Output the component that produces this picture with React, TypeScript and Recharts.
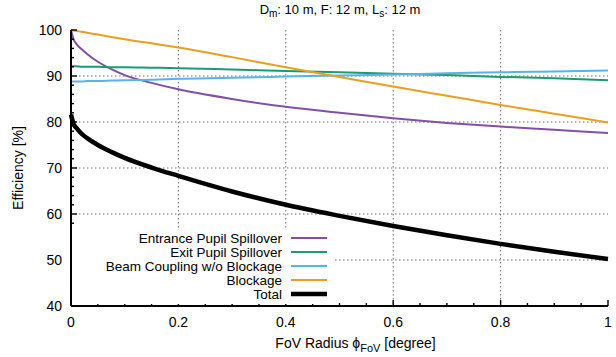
import { CartesianGrid, Label, Legend, Line, LineChart, XAxis, YAxis } from "recharts";

// FoV radius [degree] and efficiencies [%]
const fov = [0, 0.005, 0.01, 0.02, 0.03, 0.05, 0.075, 0.1, 0.15, 0.2, 0.3, 0.4, 0.5, 0.6, 0.7, 0.8, 0.9, 1.0];
const entrance = [100, 97.9, 97.0, 95.8, 94.8, 93.1, 91.5, 90.2, 88.5, 87.1, 85.0, 83.3, 82.0, 80.8, 79.8, 79.0, 78.3, 77.6];
const exitPupil = [92.1, 92.1, 92.1, 92.0, 92.0, 92.0, 91.9, 91.9, 91.8, 91.7, 91.4, 91.1, 90.8, 90.5, 90.2, 89.8, 89.5, 89.1];
const coupling = [88.8, 88.8, 88.8, 88.8, 88.9, 88.9, 89.0, 89.1, 89.2, 89.4, 89.6, 89.9, 90.1, 90.3, 90.6, 90.8, 91.0, 91.2];
const blockage = [100, 99.9, 99.8, 99.6, 99.4, 99.0, 98.5, 98.0, 97.1, 96.2, 94.1, 91.9, 89.8, 87.7, 85.7, 83.7, 81.8, 79.9];
const total = [81.6, 79.5, 78.7, 77.4, 76.5, 75.0, 73.5, 72.2, 70.1, 68.3, 64.9, 62.0, 59.6, 57.4, 55.4, 53.5, 51.8, 50.2];

const xTicks = [0, 0.05, 0.1, 0.15, 0.2, 0.25, 0.3, 0.35, 0.4, 0.45, 0.5, 0.55, 0.6, 0.65, 0.7, 0.75, 0.8, 0.85, 0.9, 0.95, 1];
const xMajor = [0, 0.2, 0.4, 0.6, 0.8, 1];
const xGrid = [0.2, 0.4, 0.6, 0.8];
const yTicks = [40, 42, 44, 46, 48, 50, 52, 54, 56, 58, 60, 62, 64, 66, 68, 70, 72, 74, 76, 78, 80, 82, 84, 86, 88, 90, 92, 94, 96, 98, 100];
const yMajor = [40, 50, 60, 70, 80, 90, 100];
const yGrid = [50, 60, 70, 80, 90];

const series = [
  { key: "entrance", name: "Entrance Pupil Spillover", color: "#8250a6", width: 2 },
  { key: "exitPupil", name: "Exit Pupil Spillover", color: "#1c9a70", width: 2 },
  { key: "coupling", name: "Beam Coupling w/o Blockage", color: "#56b4e9", width: 2 },
  { key: "blockage", name: "Blockage", color: "#e8a020", width: 2 },
  { key: "total", name: "Total", color: "#000000", width: 4.5 },
];

const rows = fov.map((x, i) => ({
  fov: x,
  entrance: entrance[i],
  exitPupil: exitPupil[i],
  coupling: coupling[i],
  blockage: blockage[i],
  total: total[i],
}));

const FONT = "'Liberation Sans', Arial, sans-serif";
const TOP = 30;
const BOTTOM = 306;
const LEFT = 71;
const RIGHT = 608;

const isMajor = (list: number[], v: number) => list.some((m) => Math.abs(m - v) < 1e-6);

const BottomTick = (props: any) => {
  const { x, payload } = props;
  const major = isMajor(xMajor, payload.value);
  return (
    <g>
      <line x1={x} x2={x} y1={BOTTOM} y2={BOTTOM - (major ? 6 : 3)} stroke="#000" strokeWidth={1.4} />
      {major && (
        <text x={x} y={327} textAnchor="middle" fontFamily={FONT} fontSize={14} fill="#000">
          {String(payload.value)}
        </text>
      )}
    </g>
  );
};

const TopTick = (props: any) => {
  const { x, payload } = props;
  const major = isMajor(xMajor, payload.value);
  return <line x1={x} x2={x} y1={TOP} y2={TOP + (major ? 6 : 3)} stroke="#000" strokeWidth={1.4} />;
};

const LeftTick = (props: any) => {
  const { y, payload } = props;
  const major = isMajor(yMajor, payload.value);
  return (
    <g>
      <line x1={LEFT} x2={LEFT + (major ? 6 : 3)} y1={y} y2={y} stroke="#000" strokeWidth={1.4} />
      {major && (
        <text x={62} y={y + 5} textAnchor="end" fontFamily={FONT} fontSize={14} fill="#000">
          {String(payload.value)}
        </text>
      )}
    </g>
  );
};

const RightTick = (props: any) => {
  const { y, payload } = props;
  const major = isMajor(yMajor, payload.value);
  return <line x1={RIGHT} x2={RIGHT - (major ? 6 : 3)} y1={y} y2={y} stroke="#000" strokeWidth={1.4} />;
};

const renderLegend = () => (
  <svg width={261} height={74} style={{ display: "block" }}>
    {series.map((s, i) => {
      const y = 8 + i * 14;
      return (
        <g key={s.key}>
          <text x={210} y={y + 4.5} textAnchor="end" fontFamily={FONT} fontSize={13.5} fill="#000">
            {s.name}
          </text>
          <line x1={219} x2={255} y1={y} y2={y} stroke={s.color} strokeWidth={s.width} />
        </g>
      );
    })}
  </svg>
);

const axisLine = { stroke: "#000", strokeWidth: 2 };

export default function App() {
  return (
    <div style={{ position: "fixed", left: 0, top: 0, width: 616, height: 357, background: "#fff" }}>
      <LineChart width={616} height={357} data={rows} margin={{ top: TOP, right: 8, bottom: 11, left: 11 }}>
        <CartesianGrid
          verticalValues={xGrid}
          horizontalValues={yGrid}
          stroke="#6e6e6e"
          strokeDasharray="1.5 2.5"
          strokeWidth={1}
        />
        <XAxis
          dataKey="fov"
          type="number"
          domain={[0, 1]}
          ticks={xTicks}
          interval={0}
          height={40}
          axisLine={axisLine}
          tickLine={false}
          tick={BottomTick}
        >
          <Label
            content={(p: any) => (
              <text x={p.viewBox.x + p.viewBox.width / 2 + 16} y={348} textAnchor="middle" fontFamily={FONT} fontSize={14} fill="#000">
                FoV Radius ϕ
                <tspan fontSize={11} dy={4}>FoV</tspan>
                <tspan dy={-4}> [degree]</tspan>
              </text>
            )}
          />
        </XAxis>
        <XAxis
          xAxisId="top"
          orientation="top"
          dataKey="fov"
          type="number"
          domain={[0, 1]}
          ticks={xTicks}
          interval={0}
          height={0}
          axisLine={axisLine}
          tickLine={false}
          tick={TopTick}
        />
        <YAxis
          type="number"
          domain={[40, 100]}
          ticks={yTicks}
          interval={0}
          width={60}
          axisLine={axisLine}
          tickLine={false}
          tick={LeftTick}
        >
          <Label
            content={(p: any) => (
              <text
                x={23}
                y={p.viewBox.y + p.viewBox.height / 2}
                transform={`rotate(-90 23 ${p.viewBox.y + p.viewBox.height / 2})`}
                textAnchor="middle"
                fontFamily={FONT}
                fontSize={14}
                fill="#000"
              >
                Efficiency [%]
              </text>
            )}
          />
        </YAxis>
        <YAxis
          yAxisId="right"
          orientation="right"
          type="number"
          domain={[40, 100]}
          ticks={yTicks}
          interval={0}
          width={0}
          axisLine={axisLine}
          tickLine={false}
          tick={RightTick}
        />
        <Legend
          layout="vertical"
          align="center"
          verticalAlign="middle"
          wrapperStyle={{ left: 72, top: 230, width: 261, height: 74, backgroundColor: "#fff" }}
          content={renderLegend}
        />
        {series.map((s) => (
          <Line
            key={s.key}
            type="monotone"
            dataKey={s.key}
            name={s.name}
            stroke={s.color}
            strokeWidth={s.width}
            dot={false}
            activeDot={false}
            isAnimationActive={false}
          />
        ))}
        <text x={340} y={14} textAnchor="middle" fontFamily={FONT} fontSize={13} fill="#000">
          D<tspan fontSize={10} dy={3}>m</tspan>
          <tspan dy={-3}>: 10 m, F: 12 m, L</tspan>
          <tspan fontSize={10} dy={3}>s</tspan>
          <tspan dy={-3}>: 12 m</tspan>
        </text>
      </LineChart>
    </div>
  );
}
